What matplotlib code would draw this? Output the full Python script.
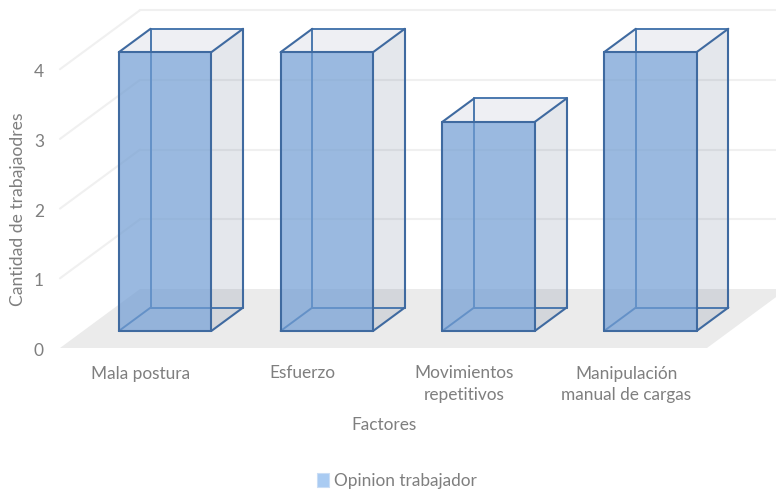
import matplotlib
matplotlib.use("Agg")
import matplotlib.pyplot as plt
from matplotlib.patches import Patch, Polygon

plt.rcParams['font.family'] = ['Lato', 'DejaVu Sans']

# datos
categorias = ["Mala postura", "Esfuerzo", "Movimientos\nrepetitivos",
              "Manipulación\nmanual de cargas"]
valores = [4, 4, 3, 4]
ticks_y = [0, 1, 2, 3, 4]
serie = "Opinion trabajador"
titulo_x = "Factores"
titulo_y = "Cantidad de trabajaodres"

W, H = 776, 491
PX_CAT = 161.75   # pixeles por categoria
PX_VAL = 69.7     # pixeles por unidad
X0, Y0 = 60, 348  # origen del piso, frente izquierda

# perspectiva: cuanto se corre el fondo, en unidades de los ejes
PROF_X = 80 / PX_CAT
PROF_Y = 59 / PX_VAL
ANCHO_BARRA = 92.5 / PX_CAT
PROF_INI = 0.288
PROF_FIN = 0.685

TEXTO = "#7f7f7f"
GRILLA = "#f0f0f0"
PISO = "#ebebeb"
BORDE = "#3f6aa0"
BORDE_INT = "#4a78ae"
FRENTE = (112 / 255, 156 / 255, 211 / 255, 0.70)
LADO = (68 / 255, 88 / 255, 122 / 255, 0.14)
TAPA = (68 / 255, 88 / 255, 122 / 255, 0.09)
LEYENDA = "#a9cbf2"


def proy(x, v, d):
    """Pasa (categoria, valor, profundidad) a coordenadas del eje."""
    return x + d * PROF_X, v + d * PROF_Y


def cara(ax, puntos, color, z):
    ax.add_patch(Polygon([proy(*p) for p in puntos], closed=True, fc=color,
                         ec="none", zorder=z))


def linea(ax, a, b, color, lw, z):
    pa, pb = proy(*a), proy(*b)
    ax.plot([pa[0], pb[0]], [pa[1], pb[1]], color=color, lw=lw, zorder=z,
            solid_capstyle="round")


def barra(ax, i, valor):
    xc = i + 0.5 + 0.007
    x1, x2 = xc - ANCHO_BARRA / 2, xc + ANCHO_BARRA / 2
    d1, d2 = PROF_INI, PROF_FIN

    # caras
    cara(ax, [(x2, 0, d1), (x2, 0, d2), (x2, valor, d2), (x2, valor, d1)], LADO, 3)
    cara(ax, [(x1, valor, d1), (x2, valor, d1), (x2, valor, d2), (x1, valor, d2)], TAPA, 3)
    cara(ax, [(x1, 0, d1), (x2, 0, d1), (x2, valor, d1), (x1, valor, d1)], FRENTE, 5)

    # aristas de atras
    linea(ax, (x1, 0, d2), (x1, valor, d2), BORDE_INT, 1.4, 4)
    linea(ax, (x1, 0, d2), (x2, 0, d2), BORDE_INT, 1.4, 4)
    linea(ax, (x1, 0, d1), (x1, 0, d2), BORDE_INT, 1.4, 4)
    linea(ax, (x1, valor, d2), (x2, valor, d2), BORDE_INT, 1.4, 4)

    # aristas de adelante
    for a, b in [((x1, 0, d1), (x2, 0, d1)), ((x2, 0, d1), (x2, valor, d1)),
                 ((x2, valor, d1), (x1, valor, d1)), ((x1, valor, d1), (x1, 0, d1)),
                 ((x1, valor, d1), (x1, valor, d2)), ((x2, valor, d1), (x2, valor, d2)),
                 ((x2, valor, d2), (x2, 0, d2)), ((x2, 0, d2), (x2, 0, d1))]:
        linea(ax, a, b, BORDE, 1.5, 6)


fig = plt.figure(figsize=(W / 100, H / 100), dpi=100)
ax = fig.add_axes([0, 0, 1, 1])
ax.set_xlim(-X0 / PX_CAT, (W - X0) / PX_CAT)
ax.set_ylim(-(H - Y0) / PX_VAL, Y0 / PX_VAL)
ax.axis("off")

n = len(categorias)
fin_x = (W - X0 - 80) / PX_CAT

# piso y grilla
cara(ax, [(0, 0, 0), (n, 0, 0), (n, 0, 1), (0, 0, 1)], PISO, 1)
for t in ticks_y[1:]:
    linea(ax, (0, t, 0), (0, t, 1), GRILLA, 1.5, 1)
    linea(ax, (0, t, 1), (fin_x, t, 1), GRILLA, 1.5, 1)

for i, v in enumerate(valores):
    barra(ax, i, v)

# etiquetas de los ejes
for t in ticks_y:
    ax.text(-21 / PX_CAT, t - 3 / PX_VAL, str(t), color=TEXTO, fontsize=12.5,
            ha="center", va="center")
for i, c in enumerate(categorias):
    ax.text(i + 0.5, -17.5 / PX_VAL, c, color=TEXTO, fontsize=12.4, ha="center", va="top",
            linespacing=1.4)

fig.text(384 / W, 1 - 425 / H, titulo_x, color=TEXTO, fontsize=12.4, ha="center", va="center")
fig.text(18.5 / W, 1 - 209 / H, titulo_y, color=TEXTO, fontsize=12.6, rotation=90,
         ha="center", va="center")

ax.legend(handles=[Patch(fc=LEYENDA, ec="#c9ddf5", lw=0.8, label=serie)],
          loc="center", bbox_to_anchor=(397 / W, 1 - 481 / H), frameon=False,
          fontsize=12.4, labelcolor=TEXTO, handlelength=0.7, handleheight=0.8,
          handletextpad=0.25, borderpad=0, borderaxespad=0)

fig.savefig("out.png", dpi=100)
